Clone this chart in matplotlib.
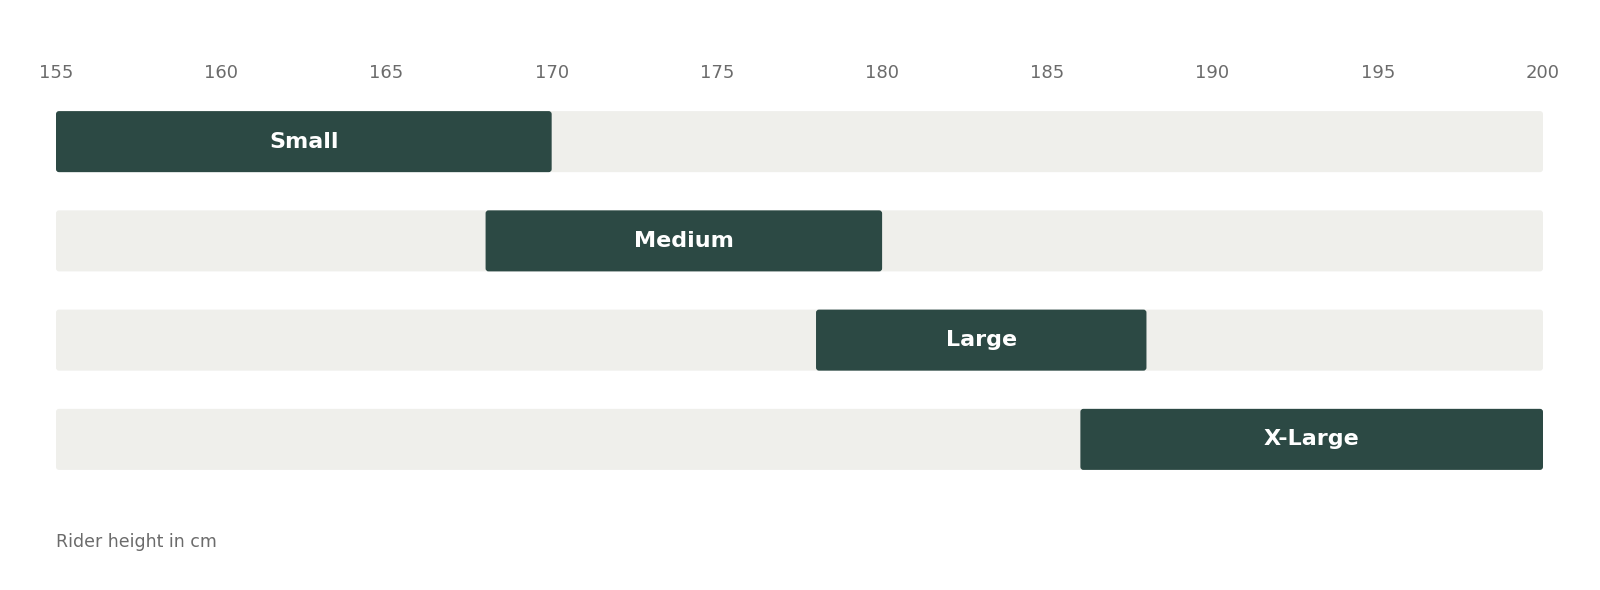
import matplotlib
matplotlib.use("Agg")
import matplotlib.pyplot as plt
from matplotlib.patches import FancyBboxPatch

sizes = ["Small", "Medium", "Large", "X-Large"]
min_height = [155, 168, 178, 186]
max_height = [170, 180, 188, 200]
x_min, x_max = 155, 200
ticks = list(range(155, 201, 5))

DARK = "#2c4944"
TRACK = "#efefeb"
GREY = "#6b6b6b"

fig = plt.figure(figsize=(16, 5.9), dpi=100)
ax = fig.add_axes([56/1600, 1-489/590, 1487/1600, 397/590])
ax.set_xlim(x_min, x_max)
ax.set_ylim(len(sizes) - 0.5, -0.5)

xunit_px = 1487 / (x_max - x_min)
yunit_px = 99
radius_px = 3
rs = radius_px / xunit_px
aspect = xunit_px / yunit_px

def rounded(bars, color):
    for b in bars:
        x, y = b.get_x(), b.get_y()
        w, h = b.get_width(), b.get_height()
        b.remove()
        p = FancyBboxPatch((x, y), w, h,
                           boxstyle=f"round,pad=0,rounding_size={rs}",
                           mutation_aspect=aspect,
                           facecolor=color, edgecolor="none")
        ax.add_patch(p)

track = ax.barh(range(len(sizes)), [x_max - x_min]*len(sizes), left=x_min, height=0.615)
rounded(track, TRACK)
widths = [b - a for a, b in zip(min_height, max_height)]
bars = ax.barh(range(len(sizes)), widths, left=min_height, height=0.615)
rounded(bars, DARK)

for i, (s, a, b) in enumerate(zip(sizes, min_height, max_height)):
    ax.text((a + b) / 2, i, s, ha="center", va="center", color="white",
            fontsize=16, fontweight="bold")

ax.set_xticks(ticks)
ax.xaxis.tick_top()
ax.tick_params(axis="x", length=0, pad=7, labelsize=13, labelcolor=GREY)
ax.set_yticks([])
for sp in ax.spines.values():
    sp.set_visible(False)

fig.text(56/1600, 1-542/590, "Rider height in cm", ha="left", va="center",
         fontsize=12.5, color=GREY)

fig.savefig("out.png", dpi=100, facecolor="white")
